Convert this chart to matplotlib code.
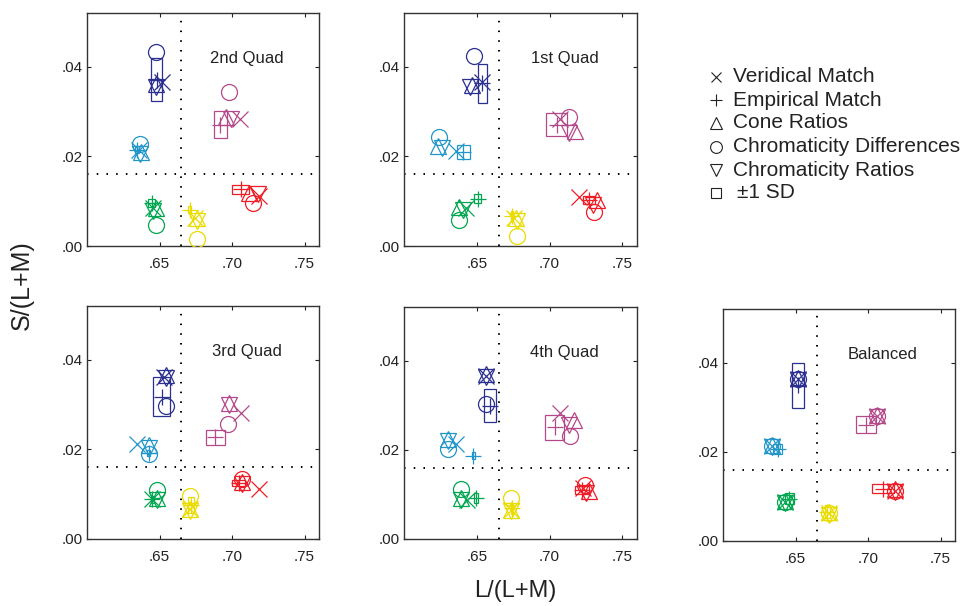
import matplotlib
matplotlib.use("Agg")
import matplotlib.pyplot as plt
from matplotlib.lines import Line2D
from matplotlib.patches import Rectangle

plt.rcParams["font.family"] = ["Liberation Sans", "DejaVu Sans"]

# panels, in drawing order
PANELS = ["2nd Quad", "1st Quad", "3rd Quad", "4th Quad", "Balanced"]
# test colours: blue, cyan, magenta, green, yellow, red
COLORS = ["#2b2f8f", "#2296c8", "#b4498a", "#00a650", "#eadb00", "#ee1c25"]

NEUTRAL_X = 0.665
NEUTRAL_Y = 0.016

# veridical match (x)
VER_X = [
    [0.6520, 0.6360, 0.7052, 0.6457, 0.6745, 0.7189],
    [0.6539, 0.6357, 0.7073, 0.6425, 0.6752, 0.7205],
    [0.6530, 0.6348, 0.7064, 0.6445, 0.6711, 0.7189],
    [0.6561, 0.6357, 0.7073, 0.6436, 0.6736, 0.7232],
    [0.6520, 0.6336, 0.7064, 0.6427, 0.6734, 0.7189],
]
VER_Y = [
    [0.0366, 0.0214, 0.0283, 0.0085, 0.0063, 0.0111],
    [0.0365, 0.0212, 0.0283, 0.0085, 0.0062, 0.0109],
    [0.0361, 0.0211, 0.0282, 0.0089, 0.0068, 0.0111],
    [0.0366, 0.0212, 0.0282, 0.0088, 0.0066, 0.0114],
    [0.0363, 0.0213, 0.0280, 0.0088, 0.0062, 0.0113],
]

# empirical match (+) with +-1 SD
EMP_X = [
    [0.6480, 0.6345, 0.6920, 0.6445, 0.6707, 0.7060],
    [0.6537, 0.6407, 0.7050, 0.6505, 0.6743, 0.7270],
    [0.6516, 0.6427, 0.6885, 0.6450, 0.6716, 0.7045],
    [0.6592, 0.6477, 0.7035, 0.6493, 0.6743, 0.7223],
    [0.6515, 0.6377, 0.6986, 0.6457, 0.6720, 0.7102],
]
EMP_Y = [
    [0.0371, 0.0215, 0.0271, 0.0096, 0.0081, 0.0127],
    [0.0363, 0.0210, 0.0271, 0.0105, 0.0067, 0.0102],
    [0.0318, 0.0192, 0.0227, 0.0089, 0.0075, 0.0125],
    [0.0299, 0.0187, 0.0250, 0.0092, 0.0069, 0.0110],
    [0.0349, 0.0206, 0.0261, 0.0095, 0.0066, 0.0117],
]
SD_X = [
    [0.0040, 0.0012, 0.0045, 0.0025, 0.0010, 0.0060],
    [0.0032, 0.0045, 0.0072, 0.0025, 0.0008, 0.0040],
    [0.0059, 0.0010, 0.0065, 0.0010, 0.0020, 0.0045],
    [0.0042, 0.0010, 0.0065, 0.0012, 0.0006, 0.0050],
    [0.0042, 0.0032, 0.0066, 0.0032, 0.0017, 0.0074],
]
SD_Y = [
    [0.0048, 0.0008, 0.0030, 0.0010, 0.0008, 0.0010],
    [0.0043, 0.0015, 0.0025, 0.0010, 0.0012, 0.0009],
    [0.0043, 0.0007, 0.0017, 0.0008, 0.0018, 0.0007],
    [0.0037, 0.0008, 0.0028, 0.0011, 0.0012, 0.0009],
    [0.0050, 0.0012, 0.0020, 0.0013, 0.0015, 0.0010],
]

# cone ratios (^)
CONE_X = [
    [0.6475, 0.6370, 0.6961, 0.6473, 0.6757, 0.7120],
    [0.6465, 0.6236, 0.7175, 0.6375, 0.6766, 0.7323],
    [0.6548, 0.6427, 0.6980, 0.6484, 0.6711, 0.7068],
    [0.6561, 0.6305, 0.7164, 0.6391, 0.6736, 0.7273],
    [0.6518, 0.6336, 0.7064, 0.6427, 0.6734, 0.7189],
]
CONE_Y = [
    [0.0362, 0.0210, 0.0287, 0.0085, 0.0062, 0.0119],
    [0.0360, 0.0223, 0.0257, 0.0087, 0.0062, 0.0102],
    [0.0366, 0.0210, 0.0304, 0.0091, 0.0068, 0.0127],
    [0.0369, 0.0225, 0.0266, 0.0091, 0.0066, 0.0108],
    [0.0366, 0.0215, 0.0283, 0.0090, 0.0065, 0.0116],
]

# chromaticity differences (o)
DIFF_X = [
    [0.6475, 0.6364, 0.6977, 0.6475, 0.6761, 0.7148],
    [0.6482, 0.6243, 0.7134, 0.6375, 0.6777, 0.7307],
    [0.6548, 0.6427, 0.6973, 0.6484, 0.6711, 0.7068],
    [0.6561, 0.6305, 0.7141, 0.6391, 0.6736, 0.7243],
    [0.6518, 0.6336, 0.7064, 0.6427, 0.6734, 0.7189],
]
DIFF_Y = [
    [0.0434, 0.0228, 0.0343, 0.0046, 0.0016, 0.0095],
    [0.0425, 0.0244, 0.0287, 0.0059, 0.0022, 0.0076],
    [0.0296, 0.0189, 0.0257, 0.0110, 0.0095, 0.0135],
    [0.0303, 0.0201, 0.0231, 0.0112, 0.0091, 0.0121],
    [0.0363, 0.0213, 0.0280, 0.0088, 0.0062, 0.0113],
]

# chromaticity ratios (v)
RATIO_X = [
    [0.6475, 0.6365, 0.6995, 0.6455, 0.6760, 0.7177],
    [0.6455, 0.6261, 0.7130, 0.6402, 0.6777, 0.7300],
    [0.6548, 0.6427, 0.6980, 0.6484, 0.6711, 0.7068],
    [0.6561, 0.6305, 0.7130, 0.6391, 0.6736, 0.7250],
    [0.6518, 0.6336, 0.7064, 0.6427, 0.6734, 0.7189],
]
RATIO_Y = [
    [0.0355, 0.0205, 0.0283, 0.0079, 0.0056, 0.0116],
    [0.0355, 0.0219, 0.0253, 0.0081, 0.0056, 0.0092],
    [0.0360, 0.0204, 0.0298, 0.0086, 0.0063, 0.0122],
    [0.0364, 0.0220, 0.0255, 0.0087, 0.0062, 0.0104],
    [0.0360, 0.0211, 0.0277, 0.0086, 0.0059, 0.0110],
]

LEGEND_LABELS = ["Veridical Match", "Empirical Match", "Cone Ratios",
                 "Chromaticity Differences", "Chromaticity Ratios", "\u00b11 SD"]
LEGEND_MARKERS = ["x", "+", "^", "o", "v", "s"]

# axes rectangles in pixels: left, top, width, height
W, H = 966, 606
BOXES = [
    (87, 13, 232, 233),
    (404, 13, 233, 233),
    (87, 306, 232, 233),
    (404, 307, 233, 232),
    (723, 309, 232, 232),
]

fig = plt.figure(figsize=(W / 100, H / 100), dpi=100)
mk = dict(linestyle="none", markerfacecolor="none", markersize=11.5, markeredgewidth=0.9)

for p, name in enumerate(PANELS):
    left, top, bw, bh = BOXES[p]
    ax = fig.add_axes([left / W, 1 - (top + bh) / H, bw / W, bh / H])
    ax.set_xlim(0.60, 0.76)
    ax.set_ylim(0.0, 0.052)

    ax.axvline(NEUTRAL_X, color="k", lw=1.4, linestyle=(0, (0.8, 4.2)), zorder=1)
    ax.axhline(NEUTRAL_Y, color="k", lw=1.4, linestyle=(0, (0.8, 4.2)), zorder=1)

    for c, col in enumerate(COLORS):
        ex, ey = EMP_X[p][c], EMP_Y[p][c]
        sx, sy = SD_X[p][c], SD_Y[p][c]
        ax.add_patch(Rectangle((ex - sx, ey - sy), 2 * sx, 2 * sy, fill=False,
                               edgecolor=col, lw=0.9, zorder=2))
        ax.plot([ex], [ey], marker="+", color=col, **mk, zorder=3)
        ax.plot([VER_X[p][c]], [VER_Y[p][c]], marker="x", color=col, **mk, zorder=3)
        ax.plot([CONE_X[p][c]], [CONE_Y[p][c]], marker="^", color=col, **mk, zorder=3)
        ax.plot([DIFF_X[p][c]], [DIFF_Y[p][c]], marker="o", color=col, **mk, zorder=3)
        ax.plot([RATIO_X[p][c]], [RATIO_Y[p][c]], marker="v", color=col, **mk, zorder=3)

    ax.set_xticks([0.65, 0.70, 0.75])
    ax.set_xticklabels([".65", ".70", ".75"])
    ax.set_yticks([0.0, 0.02, 0.04])
    ax.set_yticklabels([".00", ".02", ".04"])
    ax.tick_params(direction="in", top=True, right=True, length=3, width=0.8,
                   labelsize=11, colors="#222222")
    ax.tick_params(axis="x", pad=8)
    ax.tick_params(axis="y", pad=3)
    for s in ax.spines.values():
        s.set_linewidth(1.0)
        s.set_color("#333333")

    ax.text(0.7103, 0.0418, name, ha="center", va="center", fontsize=12, color="#222222")

fig.text(22 / W, 1 - 285 / H, "S/(L+M)", rotation=90, ha="center", va="center",
         fontsize=18, color="#222222")
fig.text(515 / W, 1 - 591 / H, "L/(L+M)", ha="center", va="center",
         fontsize=17, color="#222222")

# marker key
rows = [77, 100, 123, 147, 170, 193]
for i, (lab, m) in enumerate(zip(LEGEND_LABELS, LEGEND_MARKERS)):
    y = 1 - rows[i] / H
    size = {"x": 6.5, "+": 8, "^": 8, "o": 8.5, "v": 8, "s": 6.5}[m]
    fig.add_artist(Line2D([716 / W], [y], transform=fig.transFigure, marker=m,
                          markersize=size, markerfacecolor="none", markeredgecolor="#222222",
                          markeredgewidth=0.8, linestyle="none"))
    tx = 737 if m == "s" else 733
    fig.text(tx / W, y, lab, ha="left", va="center", fontsize=15, color="#222222")

fig.savefig("out.png", dpi=100)
